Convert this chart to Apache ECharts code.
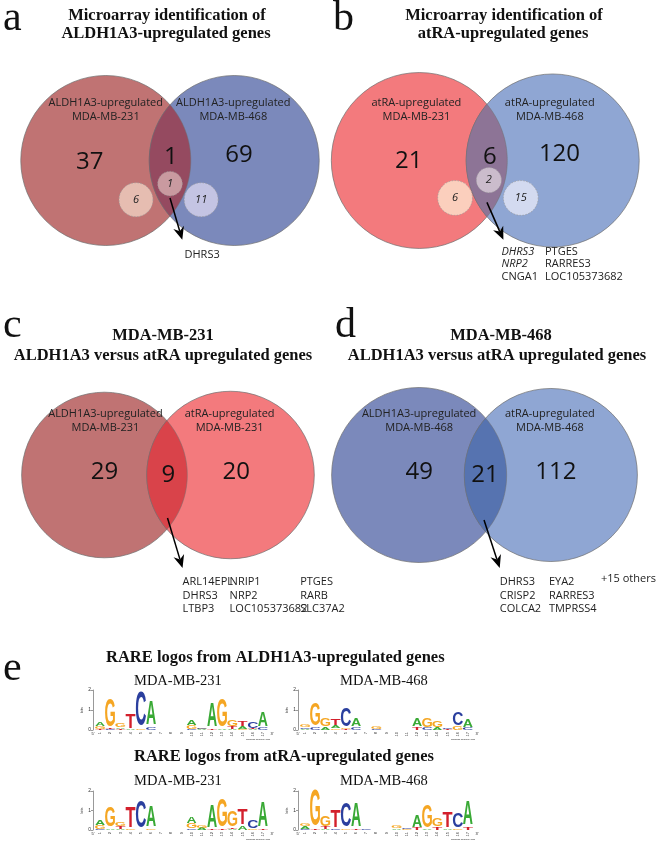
<!DOCTYPE html>
<html><head><meta charset="utf-8">
<script src="https://cdn.jsdelivr.net/npm/echarts@6/dist/echarts.min.js"></script>
<style>html,body{margin:0;padding:0;background:#fff}#c{width:660px;height:844px}</style>
</head><body><div id="c"></div>
<script>
// ================= DATA =================
// Panel a
const vennALabels = ['ALDH1A3-upregulated\nMDA-MB-231', 'ALDH1A3-upregulated\nMDA-MB-468'];
const vennACounts = [37, 1, 69];          // left only, overlap, right only
const vennARare = [6, 1, 11];             // RARE-containing genes
const vennAGenes = [['DHRS3']];
// Panel b
const vennBLabels = ['atRA-upregulated\nMDA-MB-231', 'atRA-upregulated\nMDA-MB-468'];
const vennBCounts = [21, 6, 120];
const vennBRare = [6, 2, 15];
const vennBGenes = [['DHRS3', 'NRP2', 'CNGA1'], ['PTGES', 'RARRES3', 'LOC105373682']];
const vennBItalic = ['DHRS3', 'NRP2'];
// Panel c
const vennCLabels = ['ALDH1A3-upregulated\nMDA-MB-231', 'atRA-upregulated\nMDA-MB-231'];
const vennCCounts = [29, 9, 20];
const vennCGenes = [['ARL14EPL', 'DHRS3', 'LTBP3'], ['NRIP1', 'NRP2', 'LOC105373682'], ['PTGES', 'RARB', 'SLC37A2']];
// Panel d
const vennDLabels = ['ALDH1A3-upregulated\nMDA-MB-468', 'atRA-upregulated\nMDA-MB-468'];
const vennDCounts = [49, 21, 112];
const vennDGenes = [['DHRS3', 'CRISP2', 'COLCA2'], ['EYA2', 'RARRES3', 'TMPRSS4']];
const vennDExtra = '+15 others';

// Panel e: sequence logos, each position = stack of [base, bits] from bottom to top
const logoPositions = ['1','2','3','4','5','6','7','8','9','10','11','12','13','14','15','16','17'];
const logoAldh231 = [
  [['T',.04],['G',.12],['A',.22]], [['C',.03],['T',.03],['G',1.4]], [['T',.04],['A',.08],['G',.17]],
  [['A',.04],['T',.7]], [['G',.03],['C',1.72]], [['C',.14],['A',1.22]],
  [['T',.02]], [['C',.02]], [['A',.02]],
  [['C',.05],['G',.18],['A',.28]], [['A',.03],['G',.04],['C',.04]], [['T',.05],['A',1.2]],
  [['A',.03],['G',1.4]], [['A',.05],['T',.12],['G',.35]], [['G',.05],['A',.12],['T',.25]],
  [['A',.04],['T',.05],['C',.3]], [['C',.1],['A',.75]]
];
const logoAldh468 = [
  [['A',.05],['C',.08],['G',.12]], [['C',.1],['G',1.15]], [['A',.15],['G',.38]],
  [['G',.08],['A',.12],['T',.3]], [['T',.04],['G',.05],['C',.95]], [['C',.15],['A',.42]],
  [['G',.02]], [['C',.05],['G',.12]], [['A',.02]],
  [['C',.02]], [['G',.02]], [['T',.15],['A',.42]],
  [['C',.12],['G',.45]], [['A',.1],['G',.3]], [['T',.04],['C',.03]],
  [['G',.2],['C',.65]], [['C',.1],['A',.42]]
];
const logoAtra231 = [
  [['C',.05],['G',.2],['A',.25]], [['A',.08],['G',1.0]], [['A',.04],['T',.12],['G',.22]],
  [['G',.03],['T',1.05]], [['C',1.35]], [['G',.06],['A',1.1]],
  [['T',.02]], [['A',.02]], [['A',.02]],
  [['C',.08],['G',.25],['A',.35]], [['A',.1],['G',.15]], [['T',.04],['A',1.15]],
  [['T',.03],['G',1.4]], [['A',.04],['T',.08],['G',.8]], [['A',.2],['T',.8]],
  [['G',.06],['C',.4]], [['T',.08],['A',1.3]]
];
const logoAtra468 = [
  [['C',.05],['A',.15],['G',.15]], [['T',.03],['G',1.8]], [['A',.05],['T',.1],['G',.55]],
  [['C',.05],['T',.9]], [['G',.04],['C',1.25]], [['T',.06],['A',1.2]],
  [['C',.05]], [['A',.02]], [['G',.02]],
  [['A',.08],['G',.12]], [['G',.05],['C',.08]], [['T',.1],['A',.6]],
  [['A',.03],['G',1.15]], [['T',.15],['G',.4]], [['A',.06],['T',.8]],
  [['G',.08],['C',.75]], [['T',.15],['A',1.25]]
];

// ================= STYLE / LAYOUT =================
const SANS = '"Open Sans", "Noto Sans", sans-serif';
const SERIF = '"Liberation Serif", "DejaVu Serif", serif';
const BASE_COL = {A: '#39a935', C: '#2b3f9e', G: '#f5a623', T: '#d3202c'};
const FS = 20, CAP = 0.716;
const INK = {A: 0.70, C: 0.64, G: 0.68, T: 0.60};

const layoutA = {grid: 0, cx: 160, cy: 141, s: 90, circles: [[-68, 90], [68, 90]], labels: [[-68, -57], [67, -57]],
  nums: [[-85, 2], [1, -4], [73, -6]], rare: [[-36, 44, 18], [0, 26, 13], [33, 44, 18]],
  arrow: [[0, 42], [13, 89]], geneCols: [34], geneRows: [106], geneAlign: 'center',
  colors: ['#c07373', '#7b89bb', '#954a60'], rareColors: ['#e6bdb1', '#c99aa0', '#c4c4e3']};
const layoutB = {grid: 1, cx: 492, cy: 141, s: 90, circles: [[-69, 91], [69, 89.5]], labels: [[-72, -57], [66, -57]],
  nums: [[-80, 1], [4, -4], [76, -7]], rare: [[-32, 42, 18], [3, 22, 13], [36, 42, 18]],
  arrow: [[1, 47], [18, 89]], geneCols: [16, 61], geneRows: [102, 116, 130], geneAlign: 'left',
  colors: ['#f37a7d', '#8fa6d3', '#8d7496'], rareColors: ['#fbcfbd', '#cbbccc', '#d3daf0']};
const layoutC = {grid: 2, cx: 157, cy: 475, s: 89, circles: [[-67, 88], [67, 89]], labels: [[-66, -54], [66, -54]],
  nums: [[-67, -3], [1, 0], [73, -3]], arrow: [[0, 43], [16, 93]], geneCols: [16, 66, 141], geneRows: [107, 121, 134],
  geneAlign: 'left', colors: ['#c07373', '#f37a7d', '#d9434a']};
const layoutD = {grid: 3, cx: 488, cy: 475, s: 89, circles: [[-67, 89], [67, 88]], labels: [[-67, -54], [66, -54]],
  nums: [[-67, -3], [0, 0], [72, -3]], arrow: [[-1, 45], [15, 93]], geneCols: [15, 65], geneRows: [107, 121, 134],
  geneAlign: 'left', extraPos: [118, 104], colors: ['#7b89bb', '#8fa6d3', '#5673b0']};

const logoGrids = [
  {left: 95, top: 690, width: 173, height: 40},
  {left: 300, top: 690, width: 173, height: 40},
  {left: 95, top: 791, width: 173, height: 39},
  {left: 300, top: 791, width: 173, height: 39}
];

function makeVenn(L, labels, counts, rare, genes, italic, extra) {
  return {
    type: 'custom', xAxisIndex: L.grid, yAxisIndex: L.grid, data: [[0, 0]], silent: true,
    encode: {x: 0, y: 1},
    renderItem: function (params, api) {
      const pt = (p) => api.coord([p[0] / L.s, -p[1] / L.s]);
      const len = (r) => api.size([r / L.s, 0])[0];
      const ch = [];
      const Lc = pt([L.circles[0][0], 0]), Rc = pt([L.circles[1][0], 0]);
      const rL = len(L.circles[0][1]), rR = len(L.circles[1][1]);
      ch.push({type: 'circle', shape: {cx: Lc[0], cy: Lc[1], r: rL}, style: {fill: L.colors[0], stroke: '#6f6f6f', lineWidth: 0.7}});
      ch.push({type: 'circle', shape: {cx: Rc[0], cy: Rc[1], r: rR}, style: {fill: L.colors[1], stroke: '#6f6f6f', lineWidth: 0.7}});
      // lens (overlap region)
      const d = Rc[0] - Lc[0];
      const a = (d * d + rL * rL - rR * rR) / (2 * d);
      const h = Math.sqrt(rL * rL - a * a);
      const ix = Lc[0] + a;
      const angL = Math.atan2(h, a);
      const th = Math.atan2(h, ix - Rc[0]);
      const pts = [];
      const N = 60;
      for (let k = 0; k <= N; k++) { const t = -angL + 2 * angL * k / N; pts.push([Lc[0] + rL * Math.cos(t), Lc[1] + rL * Math.sin(t)]); }
      for (let k = 0; k <= N; k++) { const t = th + (2 * Math.PI - 2 * th) * k / N; pts.push([Rc[0] + rR * Math.cos(t), Rc[1] + rR * Math.sin(t)]); }
      ch.push({type: 'polygon', shape: {points: pts}, style: {fill: L.colors[2], stroke: '#6f6f6f', lineWidth: 0.5}});
      labels.forEach((t, i) => {
        const p = pt(L.labels[i]);
        ch.push({type: 'text', x: p[0], y: p[1], style: {text: t, font: '11px ' + SANS, fill: '#222', align: 'center', verticalAlign: 'middle', lineHeight: 14}});
      });
      counts.forEach((v, i) => {
        const p = pt(L.nums[i]);
        ch.push({type: 'text', x: p[0], y: p[1], style: {text: String(v), font: '24px ' + SANS, fill: '#111', align: 'center', verticalAlign: 'middle'}});
      });
      if (rare) {
        rare.forEach((v, i) => {
          const q = L.rare[i];
          const p = pt(q);
          ch.push({type: 'circle', shape: {cx: p[0], cy: p[1], r: len(q[2])}, style: {fill: L.rareColors[i], stroke: '#9a9a9a', lineWidth: 0.7, lineDash: [1.5, 1.5]}});
          ch.push({type: 'text', x: p[0], y: p[1], style: {text: String(v), font: 'italic 11px ' + SANS, fill: '#222', align: 'center', verticalAlign: 'middle'}});
        });
      }
      const p0 = pt(L.arrow[0]), p1 = pt(L.arrow[1]);
      const dx = p1[0] - p0[0], dy = p1[1] - p0[1], dl = Math.hypot(dx, dy);
      const ux = dx / dl, uy = dy / dl, nx = -uy, ny = ux;
      const hl = 13, hw = 5.5;
      const bx = p1[0] - ux * hl, by = p1[1] - uy * hl;
      const notch = [p1[0] - ux * 9, p1[1] - uy * 9];
      ch.push({type: 'line', shape: {x1: p0[0], y1: p0[1], x2: notch[0], y2: notch[1]}, style: {stroke: '#000', lineWidth: 1.5}});
      ch.push({type: 'polygon', shape: {points: [[p1[0], p1[1]], [bx + nx * hw, by + ny * hw], notch, [bx - nx * hw, by - ny * hw]]}, style: {fill: '#000'}});
      genes.forEach((col, ci) => {
        col.forEach((g, ri) => {
          const p = pt([L.geneCols[ci], L.geneRows[ri]]);
          const it = italic && italic.indexOf(g) >= 0;
          ch.push({type: 'text', x: p[0], y: p[1], style: {text: g, font: (it ? 'italic ' : '') + '11px ' + SANS, fill: '#222', align: L.geneAlign, verticalAlign: 'middle'}});
        });
      });
      if (extra) {
        const p = pt(L.extraPos);
        ch.push({type: 'text', x: p[0], y: p[1], style: {text: extra, font: '11px ' + SANS, fill: '#222', align: 'left', verticalAlign: 'middle'}});
      }
      return {type: 'group', children: ch};
    }
  };
}

function makeLogo(gi, stacks) {
  return {
    type: 'custom', xAxisIndex: 4 + gi, yAxisIndex: 4 + gi, silent: true,
    data: stacks.map((s, i) => [i, s.reduce((acc, e) => acc + e[1], 0)]),
    encode: {x: 0, y: 1},
    renderItem: function (params, api) {
      const i = params.dataIndex;
      const stack = stacks[i];
      const bw = api.size([1, 0])[0];
      const w = bw * 0.97;
      const cx = api.coord([i, 0])[0];
      let cum = 0;
      const ch = [];
      stack.forEach(([b, hgt]) => {
        const yb = api.coord([i, cum])[1];
        const yt = api.coord([i, cum + hgt])[1];
        const H = Math.max(yb - yt, 0.3);
        ch.push({type: 'text', x: cx, y: (yb + yt) / 2, scaleX: w / (INK[b] * FS), scaleY: H / (CAP * FS),
          style: {text: b, font: 'bold ' + FS + 'px "Liberation Sans", Arial, sans-serif', fill: BASE_COL[b], align: 'center', verticalAlign: 'middle'}});
        cum += hgt;
      });
      return {type: 'group', children: ch};
    }
  };
}

const grids = [layoutA, layoutB, layoutC, layoutD].map(L => ({left: L.cx - 2 * L.s, top: L.cy - 2 * L.s, width: 4 * L.s, height: 4 * L.s}))
  .concat(logoGrids);

const xAxes = [], yAxes = [];
for (let i = 0; i < 4; i++) {
  xAxes.push({type: 'value', gridIndex: i, min: -2, max: 2, show: false});
  yAxes.push({type: 'value', gridIndex: i, min: -2, max: 2, show: false});
}
for (let i = 0; i < 4; i++) {
  xAxes.push({type: 'category', gridIndex: 4 + i, data: logoPositions, axisLine: {show: false}, axisTick: {show: false},
    axisLabel: {rotate: 90, fontSize: 4, margin: 2, color: '#333', interval: 0, fontFamily: 'Liberation Sans'}});
  yAxes.push({type: 'value', gridIndex: 4 + i, min: 0, max: 2, interval: 1, offset: 2,
    axisLine: {show: true, lineStyle: {color: '#333', width: 0.5}}, axisTick: {show: true, length: 2, lineStyle: {width: 0.5}},
    axisLabel: {fontSize: 5, margin: 2, color: '#333', fontFamily: 'Liberation Sans'}, splitLine: {show: false},
    name: 'bits', nameLocation: 'middle', nameGap: 8, nameTextStyle: {fontSize: 4, color: '#333'}});
}

function txt(t, x, y, font, align, extra) {
  return Object.assign({type: 'text', x: x, y: y, silent: true, style: {text: t, font: font, fill: '#111', align: align || 'center', verticalAlign: 'middle'}}, extra || {});
}
const TB = 'bold 16.5px ' + SERIF;
const graphics = [
  txt('a', 3, 19, '42px ' + SERIF, 'left'),
  txt('b', 333, 19, '42px ' + SERIF, 'left'),
  txt('c', 3, 326, '42px ' + SERIF, 'left'),
  txt('d', 335, 326, '42px ' + SERIF, 'left'),
  txt('e', 3, 669, '42px ' + SERIF, 'left'),
  txt('Microarray identification of', 167, 16, TB),
  txt('ALDH1A3-upregulated genes', 166, 33.5, TB),
  txt('Microarray identification of', 504, 16, TB),
  txt('atRA-upregulated genes', 503, 33.5, TB),
  txt('MDA-MB-231', 163, 336, TB),
  txt('ALDH1A3 versus atRA upregulated genes', 163, 356, TB),
  txt('MDA-MB-468', 501, 336, TB),
  txt('ALDH1A3 versus atRA upregulated genes', 497, 356, TB),
  txt('RARE logos from ALDH1A3-upregulated genes', 106, 658, TB, 'left'),
  txt('RARE logos from atRA-upregulated genes', 134, 757, TB, 'left'),
  txt('MDA-MB-231', 134, 681, '14.5px ' + SERIF, 'left'),
  txt('MDA-MB-468', 340, 681, '14.5px ' + SERIF, 'left'),
  txt('MDA-MB-231', 134, 781, '14.5px ' + SERIF, 'left'),
  txt('MDA-MB-468', 340, 781, '14.5px ' + SERIF, 'left')
];
logoGrids.forEach(g => {
  graphics.push(txt("5'", g.left - 2, g.top + g.height + 4, '4px Liberation Sans'));
  graphics.push(txt("3'", g.left + g.width + 4, g.top + g.height + 4, '4px Liberation Sans'));
  graphics.push(txt('weblogo.berkeley.edu', g.left + g.width - 10, g.top + g.height + 9, '2.5px Liberation Sans'));
});

const chart = echarts.init(document.getElementById('c'), null, {renderer: 'canvas'});
chart.setOption({
  animation: false,
  backgroundColor: '#fff',
  grid: grids,
  xAxis: xAxes,
  yAxis: yAxes,
  graphic: graphics,
  series: [
    makeVenn(layoutA, vennALabels, vennACounts, vennARare, vennAGenes, null, null),
    makeVenn(layoutB, vennBLabels, vennBCounts, vennBRare, vennBGenes, vennBItalic, null),
    makeVenn(layoutC, vennCLabels, vennCCounts, null, vennCGenes, null, null),
    makeVenn(layoutD, vennDLabels, vennDCounts, null, vennDGenes, null, vennDExtra),
    makeLogo(0, logoAldh231),
    makeLogo(1, logoAldh468),
    makeLogo(2, logoAtra231),
    makeLogo(3, logoAtra468)
  ]
});
</script></body></html>
